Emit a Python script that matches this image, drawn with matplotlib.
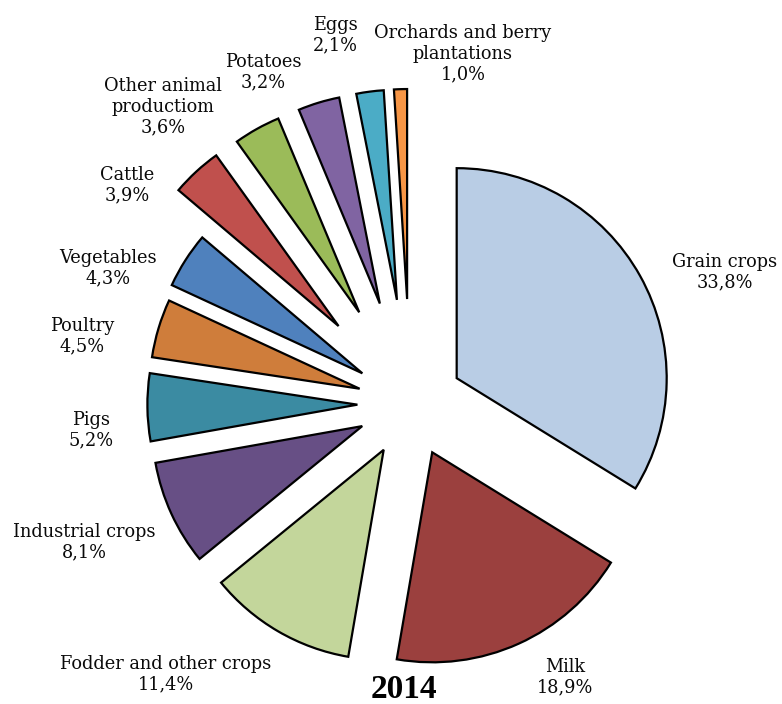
import matplotlib
matplotlib.use("Agg")
import matplotlib.pyplot as plt
import numpy as np

categories = ["Grain crops", "Milk", "Fodder and other crops", "Industrial crops",
              "Pigs", "Poultry", "Vegetables", "Cattle", "Other animal\nproductiom",
              "Potatoes", "Eggs", "Orchards and berry\nplantations"]
values = [33.8, 18.9, 11.4, 8.1, 5.2, 4.5, 4.3, 3.9, 3.6, 3.2, 2.1, 1.0]
value_labels = ["33,8%", "18,9%", "11,4%", "8,1%", "5,2%", "4,5%", "4,3%", "3,9%",
                "3,6%", "3,2%", "2,1%", "1,0%"]
title = "2014"

colors = ["#B9CDE5", "#9B403E", "#C3D69B", "#674F85", "#3B8BA2", "#CF7D3B",
          "#4F81BD", "#C0504D", "#9BBB59", "#8064A2", "#4BACC6", "#F79646"]
explode = [53, 53, 53, 53, 53, 53, 57, 106, 105, 105, 105, 105]

# label anchor positions (pixel coords, y downward)
label_pos = [(725, 272), (565, 677), (166, 674), (84, 542), (91, 430), (82, 336),
             (108, 268), (127, 185), (163, 107), (263, 72), (335, 35), (463, 54)]

W, H = 782, 704
fig = plt.figure(figsize=(W / 100, H / 100), dpi=100)
ax = fig.add_axes([0, 0, 1, 1])

ax.pie(values, radius=210, center=(410.4, H - 404), startangle=90,
       counterclock=False, explode=explode, colors=colors,
       wedgeprops=dict(edgecolor="black", linewidth=1.6), frame=True)
ax.set_xlim(0, W)
ax.set_ylim(0, H)
ax.set_aspect("equal")
ax.axis("off")

font = "DejaVu Serif"
for cat, vl, (px, py) in zip(categories, value_labels, label_pos):
    ax.text(px, H - py, f"{cat}\n{vl}", ha="center", va="center",
            fontsize=12.8, family=font, linespacing=1.2, color="#0a0a0a")

ax.text(404, H - 690, title, ha="center", va="center", fontsize=24,
        fontweight="bold", family="Liberation Serif")

fig.savefig("out.png", dpi=100)
